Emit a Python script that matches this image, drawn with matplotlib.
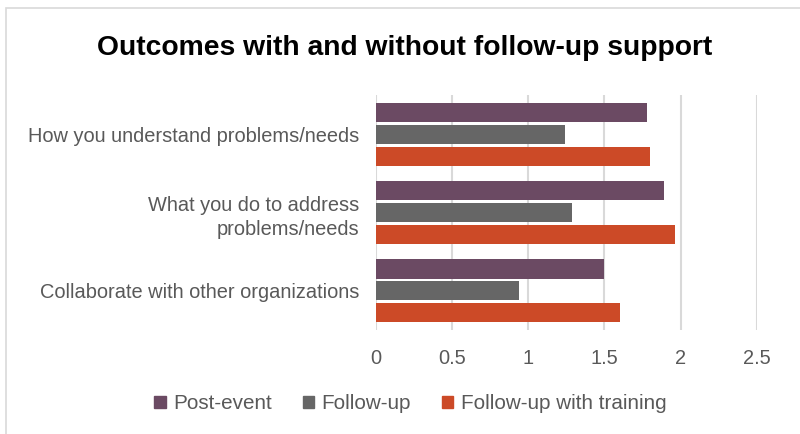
import matplotlib
matplotlib.use("Agg")
import matplotlib.pyplot as plt
import matplotlib.patches as mpatches
import numpy as np

plt.rcParams['font.family'] = ['Liberation Sans', 'DejaVu Sans']

categories = ["How you understand problems/needs",
              "What you do to address\nproblems/needs",
              "Collaborate with other organizations"]
series = ["Post-event", "Follow-up", "Follow-up with training"]
post_event = [1.78, 1.89, 1.50]
follow_up = [1.24, 1.29, 0.94]
follow_up_training = [1.80, 1.96, 1.60]
x_ticks = [0, 0.5, 1, 1.5, 2, 2.5]
x_tick_labels = ["0", "0.5", "1", "1.5", "2", "2.5"]

colors = ["#6B4A63", "#666666", "#CC4A27"]
text_grey = "#595959"

fig = plt.figure(figsize=(8, 4.34), dpi=100)
ax = fig.add_axes([0.47, 0.2396, 0.946 - 0.47, 0.781 - 0.2396])

y = np.arange(len(categories))
h = 0.245
offs = [-0.28, 0, 0.28]
for vals, off, c, name in zip([post_event, follow_up, follow_up_training], offs, colors, series):
  ax.barh(y + off, vals, height=h, color=c, label=name, zorder=3)

ax.set_ylim(len(categories) - 0.5, -0.5)
ax.set_xlim(0, 2.5)
ax.set_xticks(x_ticks)
ax.set_xticklabels(x_tick_labels)
ax.set_yticks(y)
ax.set_yticklabels(categories, ha="right", multialignment="right", linespacing=1.35)
ax.tick_params(axis="both", length=0, labelsize=14.4, labelcolor=text_grey)
ax.tick_params(axis="x", pad=14)
ax.tick_params(axis="y", pad=12)
ax.grid(axis="x", color="#D9D9D9", linewidth=1.5, zorder=0)
for s in ax.spines.values():
  s.set_visible(False)

fig.text(0.506, 0.89, "Outcomes with and without follow-up support",
         ha="center", va="center", fontsize=20.3, fontweight="bold", color="black")

handles = [mpatches.Patch(color=c, label=n) for c, n in zip(colors, series)]
fig.legend(handles=handles, loc="center", bbox_to_anchor=(0.513, 0.07), ncol=3,
           frameon=False, fontsize=14.9, labelcolor=text_grey,
           handlelength=0.55, handleheight=0.55, handletextpad=0.35, columnspacing=1.5)

fig.patches.append(mpatches.Rectangle((6 / 800, -0.05), 1.2, 1 - 8 / 434 + 0.05,
                                      transform=fig.transFigure, fill=False,
                                      edgecolor="#D9D9D9", linewidth=1.2))

fig.savefig("out.png", dpi=100)
